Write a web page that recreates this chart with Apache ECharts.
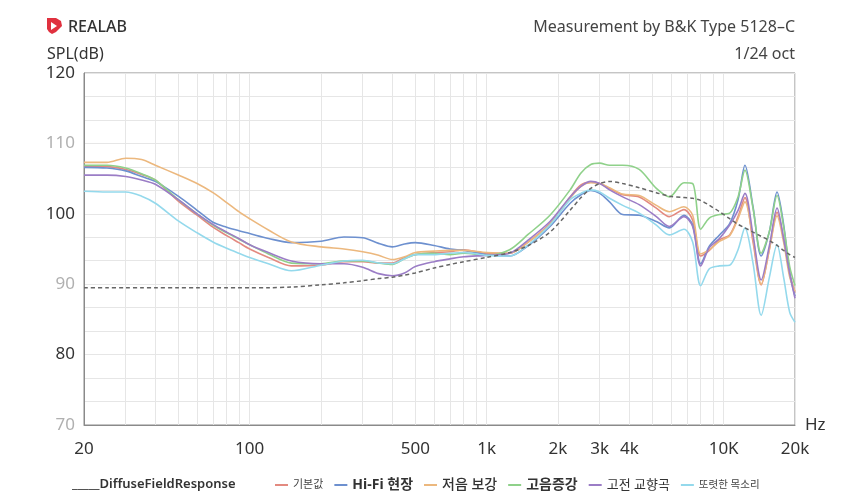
<!DOCTYPE html>
<html><head><meta charset="utf-8">
<script src="https://cdn.jsdelivr.net/npm/echarts@6/dist/echarts.min.js"></script>
<style>html,body{margin:0;padding:0;background:#fff}#c{width:850px;height:496px}</style>
</head><body><div id="c"></div><script>
// Frequencies (Hz)
const freqs = [20,25,30,35,40,50,60,70,80,90,100,120,150,200,250,300,350,400,450,500,600,700,800,1000,1250,1500,1850,2250,2500,2750,3000,3300,3750,4400,5200,5900,6800,7400,8000,8700,9600,10600,11500,12300,13300,14400,15600,16800,17900,19000,20000];
const diffuseField = [89.5,89.5,89.5,89.5,89.5,89.5,89.5,89.5,89.5,89.5,89.5,89.5,89.6,89.9,90.2,90.5,90.8,91.0,91.3,91.6,92.3,92.8,93.2,93.8,94.5,95.5,97.4,100.5,102.3,103.6,104.3,104.6,104.3,103.7,103.0,102.5,102.3,102.2,101.9,101.2,100.3,99.3,98.5,98.0,97.4,96.8,96.2,95.5,94.8,94.2,93.8];
const basic = [106.7,106.7,106.3,105.6,104.8,101.8,99.8,98.1,96.9,95.9,95.0,93.8,92.6,92.7,93.2,93.2,93.0,93.0,93.8,94.2,94.5,94.6,94.9,94.4,94.4,96.0,98.6,102.4,104.1,104.5,104.3,103.6,102.7,102.4,100.8,99.6,100.6,99.1,94.0,94.8,96.3,97.0,99.6,102.3,96.0,89.9,95.0,100.2,96.5,91.5,88.8];
const hifi = [106.6,106.5,106.1,105.3,104.6,102.5,100.5,98.8,98.1,97.6,97.2,96.5,95.9,96.1,96.7,96.6,95.8,95.3,95.7,95.9,95.5,95.0,94.8,94.2,94.0,95.5,98.2,101.5,102.7,103.3,102.9,101.7,99.9,99.8,98.9,98.0,99.8,98.4,92.9,95.4,97.0,98.6,102.0,106.9,101.0,94.0,97.5,103.1,98.5,91.5,88.3];
const bass = [107.3,107.3,107.9,107.7,106.9,105.5,104.3,103.0,101.6,100.3,99.3,97.7,96.0,95.3,95.0,94.6,94.1,93.5,93.9,94.5,94.7,94.8,94.8,94.5,94.4,96.0,98.5,102.2,103.9,104.4,104.3,103.7,102.8,102.6,101.2,100.3,101.0,99.8,94.3,94.9,96.1,96.9,99.3,101.7,96.5,90.0,95.0,99.7,96.0,91.0,89.0];
const treble = [106.9,106.9,106.5,105.7,104.8,102.0,100.0,98.4,97.3,96.4,95.6,94.3,93.0,92.9,93.3,93.3,93.0,92.8,93.6,94.2,94.4,94.2,94.4,94.1,94.9,97.1,99.8,103.4,105.8,107.0,107.2,106.9,106.9,106.3,103.6,102.4,104.4,104.3,97.8,99.4,99.9,100.1,102.4,106.2,100.8,94.4,97.5,102.6,98.2,92.5,89.8];
const classical = [105.5,105.5,105.3,104.8,104.2,102.0,100.0,98.5,97.4,96.5,95.6,94.5,93.3,92.9,92.9,92.4,91.5,91.2,91.6,92.5,93.2,93.6,93.9,94.1,94.4,96.3,98.9,102.4,103.9,104.6,104.3,103.4,102.4,101.3,99.6,98.2,99.6,98.2,92.6,95.2,96.5,98.4,100.5,102.9,97.0,90.6,95.5,100.8,96.5,91.5,88.0];
const vocal = [103.2,103.1,103.1,102.5,101.5,99.0,97.3,96.0,95.1,94.4,93.8,92.9,91.9,92.7,93.3,93.4,93.0,92.9,93.6,94.2,94.2,94.4,94.5,94.1,94.0,95.6,98.4,102.0,102.9,103.4,103.1,102.2,101.2,100.1,98.4,97.0,97.8,96.0,89.8,92.2,92.6,92.7,94.9,98.0,93.0,85.6,91.0,95.6,91.0,86.0,84.6];

const seriesNames = ['기본값','Hi-Fi 현장','저음 보강','고음증강','고전 교향곡','또렷한 목소리'];
const seriesValues = [basic, hifi, bass, treble, classical, vocal];
const seriesColors = ['#e38a80','#6d90cf','#ecb87e','#8fd18a','#9b7dc6','#94d9ec'];

const gridFreqs = [20,30,40,50,60,70,80,90,100,200,300,400,500,600,700,800,900,1000,2000,3000,4000,5000,6000,7000,8000,9000,10000,20000];
const labelFreqs = [20,100,500,1000,2000,3000,4000,10000,20000];
const labelText = {20:'20',100:'100',500:'500',1000:'1k',2000:'2k',3000:'3k',4000:'4k',10000:'10K',20000:'20k'};

const pair = arr => freqs.map((f,i)=>[f, arr[i]]);
const FONT = '"Noto Sans","Noto Sans CJK KR",sans-serif';

const series = [{
  name: 'DiffuseFieldResponse', type: 'line', data: pair(diffuseField),
  showSymbol: false, smooth: 0.3, z: 5,
  lineStyle: {color: '#666', width: 1.5, type: [4,3]}, itemStyle: {color: '#666'}
}];
seriesNames.forEach((n,i)=>{
  series.push({
    name: n, type: 'line', data: pair(seriesValues[i]), showSymbol: false, smooth: 0.3,
    lineStyle: {color: seriesColors[i], width: 1.6}, itemStyle: {color: seriesColors[i]}
  });
});

const chart = echarts.init(document.getElementById('c'), null, {renderer: 'canvas'});
chart.setOption({
  animation: false,
  backgroundColor: '#fff',
  textStyle: {fontFamily: FONT},
  title: [
    {text: 'REALAB', left: 68, top: 19, padding: 0, textStyle: {fontFamily: FONT, fontSize: 16, fontWeight: 500, color: '#333'}},
    {text: 'SPL(dB)', left: 47, top: 46, padding: 0, textStyle: {fontFamily: FONT, fontSize: 16, fontWeight: 'normal', color: '#333'}},
    {text: 'Measurement by B&K Type 5128–C', right: 55, top: 19, padding: 0, textStyle: {fontFamily: FONT, fontSize: 16, fontWeight: 'normal', color: '#444'}},
    {text: '1/24 oct', right: 55, top: 46, padding: 0, textStyle: {fontFamily: FONT, fontSize: 16, fontWeight: 'normal', color: '#444'}},
    {text: '_____DiffuseFieldResponse', left: 72, top: 478, padding: 0, textStyle: {fontFamily: FONT, fontSize: 13, fontWeight: 600, color: '#333'}}
  ],
  graphic: [{
    type: 'polygon', left: 47, top: 18,
    shape: {points: [[0,0],[9,0],[14,3],[15,8],[9,14],[5,16],[2,14],[0,11]]},
    style: {fill: '#e0313f'}
  }, {
    type: 'polygon', left: 51, top: 22,
    shape: {points: [[0,0],[6,4],[0,8]]},
    style: {fill: '#ffffff'}, z: 10
  }],
  legend: {
    left: 275, top: 478, padding: 0, itemWidth: 13, itemHeight: 2, itemGap: 11, icon: 'rect',
    data: seriesNames,
    formatter: name => '{s' + seriesNames.indexOf(name) + '|' + name + '}',
    textStyle: {
      fontFamily: FONT, color: '#333',
      rich: {
        s0: {fontSize: 11, color: '#444', fontFamily: FONT},
        s1: {fontSize: 14, fontWeight: 'bold', color: '#333', fontFamily: FONT},
        s2: {fontSize: 14, fontWeight: 500, color: '#333', fontFamily: FONT},
        s3: {fontSize: 14, fontWeight: 'bold', color: '#333', fontFamily: FONT},
        s4: {fontSize: 13, color: '#333', fontFamily: FONT},
        s5: {fontSize: 10.5, color: '#444', fontFamily: FONT}
      }
    }
  },
  grid: {left: 84, right: 55, top: 73, bottom: 71, show: true, borderColor: '#8a8a8a', borderWidth: 1, containLabel: false},
  xAxis: {
    type: 'log', logBase: 10, min: 20, max: 20000,
    name: 'Hz', nameLocation: 'end', nameGap: 10,
    nameTextStyle: {fontFamily: FONT, fontSize: 17, color: '#333', verticalAlign: 'middle'},
    axisLine: {show: true, lineStyle: {color: '#8a8a8a'}},
    axisTick: {show: false, customValues: gridFreqs},
    axisLabel: {
      customValues: labelFreqs, margin: 16, fontSize: 17, color: '#333', fontFamily: FONT,
      formatter: v => labelText[Math.round(v)] || ''
    },
    splitLine: {show: true, lineStyle: {color: '#e6e6e6', width: 1}},
    minorTick: {show: false}, minorSplitLine: {show: false}
  },
  yAxis: {
    type: 'value', min: 70, max: 120, interval: 10,
    axisLine: {show: true, lineStyle: {color: '#8a8a8a'}},
    axisTick: {show: false},
    axisLabel: {
      margin: 9, fontFamily: FONT,
      formatter: v => (v % 20 === 0 ? '{d|' + v + '}' : '{l|' + v + '}'),
      rich: {d: {fontSize: 17, color: '#333', fontFamily: FONT}, l: {fontSize: 17, color: '#b0b0b0', fontFamily: FONT}}
    },
    splitLine: {show: true, lineStyle: {color: '#e6e6e6'}},
    minorTick: {show: false, splitNumber: 3},
    minorSplitLine: {show: true, lineStyle: {color: '#e6e6e6'}}
  },
  series: series
});
</script></body></html>
